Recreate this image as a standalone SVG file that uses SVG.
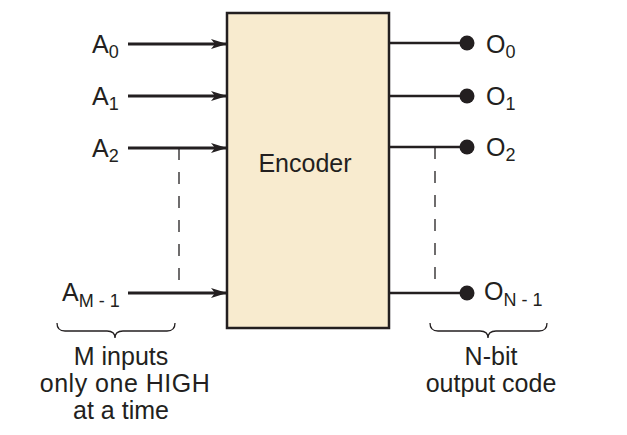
<svg xmlns="http://www.w3.org/2000/svg" width="627" height="435" viewBox="0 0 627 435">
<style>
text{font-family:"Liberation Sans",Arial,sans-serif;fill:#231f20;font-size:25px}
.sub{font-size:18px}
.in{stroke:#231f20;stroke-width:3;fill:none}
.out{stroke:#231f20;stroke-width:2.6;fill:none}
.dash{stroke:#231f20;stroke-width:1.3;stroke-dasharray:12 12;fill:none}
.brace{stroke:#231f20;stroke-width:1.3;fill:none}
.dot{fill:#231f20}
</style>
<defs>
<marker id="arr" viewBox="0 0 16 10" refX="16" refY="5" markerWidth="16" markerHeight="10" markerUnits="userSpaceOnUse" orient="auto">
<path d="M0,0 L16,5 L0,10 L4,5 Z" fill="#231f20"/>
</marker>
</defs>
<g id="encoder">
<rect x="227" y="13" width="162" height="315" fill="#f8ebcf" stroke="#231f20" stroke-width="2.5"/>
<text x="305" y="172" text-anchor="middle">Encoder</text>
</g>
<g id="connectors">
<line class="in" x1="128" y1="44" x2="227" y2="44" marker-end="url(#arr)"/>
<line class="in" x1="128" y1="96" x2="227" y2="96" marker-end="url(#arr)"/>
<line class="in" x1="128" y1="148" x2="227" y2="148" marker-end="url(#arr)"/>
<line class="in" x1="128" y1="293" x2="227" y2="293" marker-end="url(#arr)"/>
<line class="out" x1="389" y1="43" x2="467" y2="43"/>
<line class="out" x1="389" y1="96" x2="467" y2="96"/>
<line class="out" x1="389" y1="147" x2="467" y2="147"/>
<line class="out" x1="389" y1="293" x2="467" y2="293"/>
<line class="dash" x1="179" y1="148" x2="179" y2="281"/>
<line class="dash" x1="435" y1="147" x2="435" y2="281"/>
</g>
<g id="inputs">
<text x="92" y="53">A<tspan class="sub" dy="5">0</tspan></text>
<text x="92" y="105">A<tspan class="sub" dy="5">1</tspan></text>
<text x="92" y="157">A<tspan class="sub" dy="5">2</tspan></text>
<text x="62" y="301">A<tspan class="sub" dy="6">M - 1</tspan></text>
</g>
<g id="outputs">
<circle class="dot" cx="467" cy="43" r="7.5"/>
<circle class="dot" cx="467" cy="96" r="7.5"/>
<circle class="dot" cx="467" cy="147" r="7.5"/>
<circle class="dot" cx="467" cy="293" r="7.5"/>
<text x="486" y="53">O<tspan class="sub" dy="5">0</tspan></text>
<text x="486" y="105">O<tspan class="sub" dy="5">1</tspan></text>
<text x="486" y="156">O<tspan class="sub" dy="5">2</tspan></text>
<text x="484" y="300">O<tspan class="sub" dy="6">N - 1</tspan></text>
</g>
<g id="input-brace">
<path class="brace" d="M57,323 Q57,331 65,331 L107,331 Q115,331 115,338 Q115,331 123,331 L167,331 Q175,331 175,323"/>
<text x="121" y="365" text-anchor="middle">M inputs</text>
<text x="125" y="392" text-anchor="middle" letter-spacing="0.5">only one HIGH</text>
<text x="121" y="419" text-anchor="middle">at a time</text>
</g>
<g id="output-brace">
<path class="brace" d="M430,323 Q430,331 438,331 L480,331 Q488,331 488,338 Q488,331 496,331 L539,331 Q547,331 547,323"/>
<text x="491" y="365" text-anchor="middle">N-bit</text>
<text x="491" y="392" text-anchor="middle">output code</text>
</g>
</svg>
